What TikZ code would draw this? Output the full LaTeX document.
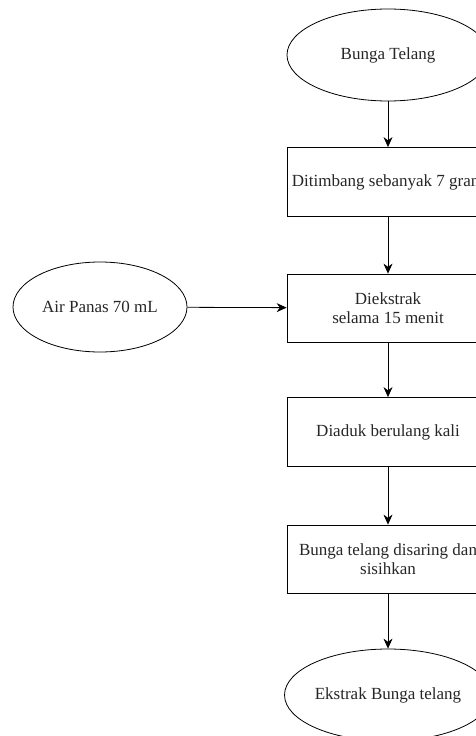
\documentclass[tikz,border=0pt]{standalone}
\usepackage{fontspec}
\setmainfont{Liberation Serif}
\usetikzlibrary{shapes.geometric,arrows.meta}

\begin{document}
\begin{tikzpicture}[x=1pt,y=-1pt,line width=0.8pt,
    proses/.style={draw,rectangle,minimum width=202pt,minimum height=69pt,inner sep=0pt,align=center},
    bahan/.style={draw,ellipse,minimum width=202pt,minimum height=92pt,inner sep=0pt,align=center},
    panah/.style={-{Stealth[length=10pt,width=9pt]}},
    every node/.style={font=\fontsize{17}{19}\selectfont,text=black!85}]
            \clip (0,0) rectangle (476,736);
            \node[bahan] (bunga) at (388,55) {Bunga Telang};
            \node[proses] (timbang) at (388,182) {Ditimbang sebanyak 7 gram};
            \node[proses,minimum height=68pt] (ekstrak) at (388,308) {Diekstrak\\selama 15 menit};
            \node[bahan,minimum width=174pt,minimum height=90pt] (air) at (100,307) {Air Panas 70 mL};
            \node[proses] (aduk) at (388,432) {Diaduk berulang kali};
            \node[proses,minimum height=68pt] (saring) at (388,559) {Bunga telang disaring dan\\sisihkan};
            \node[bahan] (hasil) at (388,695) {Ekstrak Bunga telang};
            \draw[panah] (bunga) to (timbang);
            \draw[panah] (timbang) to (ekstrak);
            \draw[panah] (air) to (ekstrak);
            \draw[panah] (ekstrak) to (aduk);
            \draw[panah] (aduk) to (saring);
            \draw[panah] (saring) to (hasil);
\end{tikzpicture}
\end{document}
